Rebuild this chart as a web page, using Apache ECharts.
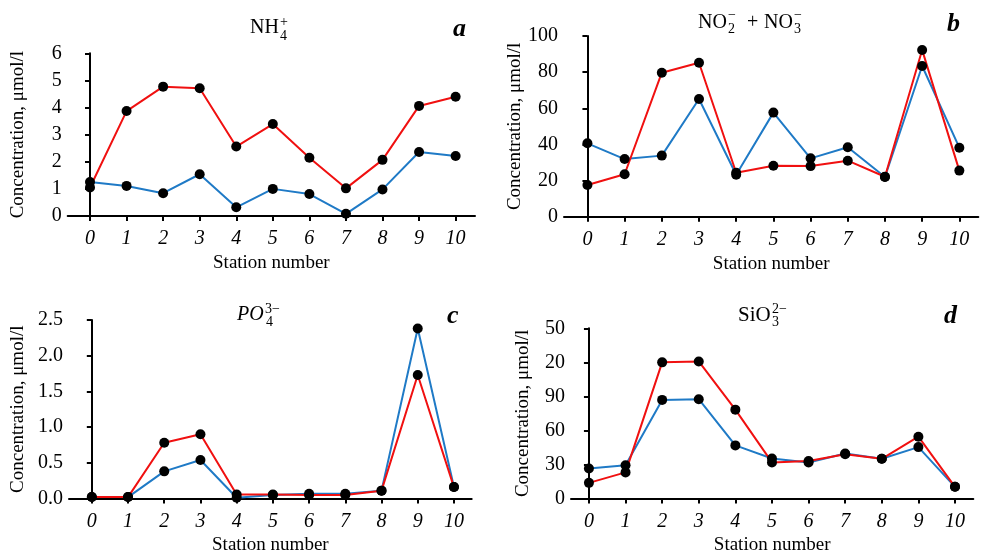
<!DOCTYPE html>
<html>
<head>
<meta charset="utf-8">
<title>Station concentrations</title>
<script src="https://cdn.jsdelivr.net/npm/echarts@6/dist/echarts.min.js"></script>
<style>
    html, body { margin: 0; padding: 0; background: #fff; }
    #main { width: 981px; height: 556px; }
</style>
</head>
<body>
<div id="main"></div>
<script>
// station numbers on every x axis
var stations = [0, 1, 2, 3, 4, 5, 6, 7, 8, 9, 10];

// a - NH4+
var nhRed = [1.05, 3.87, 4.77, 4.71, 2.56, 3.39, 2.15, 1.02, 2.07, 4.06, 4.40];
var nhBlue = [1.25, 1.11, 0.84, 1.54, 0.32, 1.00, 0.81, 0.08, 0.98, 2.36, 2.21];

// b - NO2- + NO3-
var noRed = [17.5, 23.5, 79.7, 85.2, 24.3, 28.2, 28.0, 31.0, 22.1, 92.3, 25.5];
var noBlue = [40.6, 31.9, 33.8, 65.1, 23.2, 57.6, 32.3, 38.4, 22.0, 83.4, 38.2];

// c - PO4 3-
var poRed = [0.02, 0.02, 0.78, 0.90, 0.055, 0.055, 0.05, 0.05, 0.11, 1.73, 0.16];
var poBlue = [0.02, 0.02, 0.38, 0.54, 0.01, 0.05, 0.065, 0.065, 0.11, 2.38, 0.16];

// d - SiO3 2-
var siRed = [13.8, 23.0, 120.0, 120.8, 78.3, 31.8, 33.0, 39.0, 35.0, 54.5, 10.3];
var siBlue = [26.4, 29.3, 86.9, 87.5, 46.8, 35.3, 31.8, 39.6, 35.0, 45.3, 10.3];
// tick labels of panel d, as printed
var siTicks = ['0', '30', '60', '90', '20', '50'];

(function() {
    var myChart = echarts.init(document.getElementById('main'));
    var serif = '"Liberation Serif", "Times New Roman", serif';
    var red = '#f01010';
    var blue = '#1f7ac6';

    var pairs = function(arr) {
        return stations.map(function(s, i) { return [s, arr[i]]; });
    };

    // panels: grid box + x range so that ticks sit where the picture has them
    var panels = [
        { grid: { left: 67.7, top: 53.3, width: 407.3, height: 162.7 }, xmin: -0.61, xmax: 10.53,
          ymax: 6, step: 1, nameGap: 40, red: nhRed, blue: nhBlue },
        { grid: { left: 564, top: 36, width: 414.3, height: 180.7 }, xmin: -0.63, xmax: 10.51,
          ymax: 100, step: 20, nameGap: 36.5, red: noRed, blue: noBlue },
        { grid: { left: 69, top: 320, width: 402.7, height: 181.7 }, xmin: -0.63, xmax: 10.49,
          ymax: 2.5, step: 0.5, nameGap: 41.5, red: poRed, blue: poBlue,
          fmt: function(v) { return v.toFixed(1); } },
        { grid: { left: 571, top: 328.3, width: 402.3, height: 174.4 }, xmin: -0.49, xmax: 10.5,
          ymax: 150, step: 30, nameGap: 38.5, red: siRed, blue: siBlue,
          fmt: function(v) { return siTicks[Math.round(v / 30)]; } }
    ];

    var grids = [], xAxes = [], yAxes = [], series = [];

    panels.forEach(function(p, k) {
        grids.push(p.grid);
        xAxes.push({
            type: 'value',
            gridIndex: k,
            min: p.xmin,
            max: p.xmax,
            name: 'Station number',
            nameLocation: 'middle',
            nameGap: 37.5,
            nameTextStyle: { fontFamily: serif, fontSize: 19, color: '#000' },
            axisLine: { lineStyle: { color: '#000', width: 2 } },
            axisTick: { show: true, length: 5, lineStyle: { color: '#000', width: 2 }, customValues: stations },
            axisLabel: { fontFamily: serif, fontSize: 20, fontStyle: 'italic', color: '#000', margin: 13, customValues: stations },
            splitLine: { show: false }
        });
        yAxes.push({
            type: 'value',
            gridIndex: k,
            min: 0,
            max: p.ymax,
            interval: p.step,
            name: 'Concentration, μmol/l',
            nameLocation: 'middle',
            nameGap: p.nameGap,
            nameTextStyle: { fontFamily: serif, fontSize: 19, color: '#000' },
            axisLine: { show: true, lineStyle: { color: '#000', width: 2 } },
            axisTick: { show: true, length: 5, lineStyle: { color: '#000', width: 2 } },
            axisLabel: { fontFamily: serif, fontSize: 20, color: '#000', margin: 6, formatter: p.fmt },
            splitLine: { show: false }
        });
        // blue first, red drawn over it
        [[p.blue, blue], [p.red, red]].forEach(function(s) {
            series.push({
                type: 'line',
                xAxisIndex: k,
                yAxisIndex: k,
                data: pairs(s[0]),
                symbol: 'circle',
                symbolSize: 10,
                lineStyle: { color: s[1], width: 2 },
                itemStyle: { color: '#000' },
                animation: false
            });
        });
    });

    // little helper for the chemical titles and panel letters
    var txt = function(str, x, y, size, extra) {
        var style = { text: str, font: (extra || '') + ' ' + size + 'px ' + serif, fill: '#000',
                      textAlign: 'left', textVerticalAlign: 'middle' };
        return { type: 'text', x: x, y: y, style: style, silent: true };
    };

    var graphics = [
        // NH4+
        txt('NH', 250, 28, 20), txt('+', 280, 22, 14), txt('4', 280, 36, 14),
        // NO2- + NO3-
        txt('NO', 698, 23, 20), txt('−', 728, 15, 14), txt('2', 728, 29, 14),
        txt('+', 747, 23, 20),
        txt('NO', 764, 23, 20), txt('−', 794, 15, 14), txt('3', 794, 29, 14),
        // PO4 3-
        txt('PO', 237, 315, 20, 'italic'), txt('3−', 265, 309, 14), txt('4', 266, 322, 14),
        // SiO3 2-
        txt('SiO', 738, 315, 21), txt('2−', 772, 309, 14), txt('3', 772, 322, 14),
        // panel letters
        txt('a', 453, 29, 26, 'italic bold'),
        txt('b', 947, 24, 26, 'italic bold'),
        txt('c', 447, 316, 26, 'italic bold'),
        txt('d', 944, 316, 26, 'italic bold')
    ];

    var option = {
        backgroundColor: '#fff',
        animation: false,
        grid: grids,
        xAxis: xAxes,
        yAxis: yAxes,
        series: series,
        graphic: graphics
    };
    myChart.setOption(option);
    window.addEventListener('resize', function() {
        myChart.resize();
    });
})();
</script>
</body>
</html>
